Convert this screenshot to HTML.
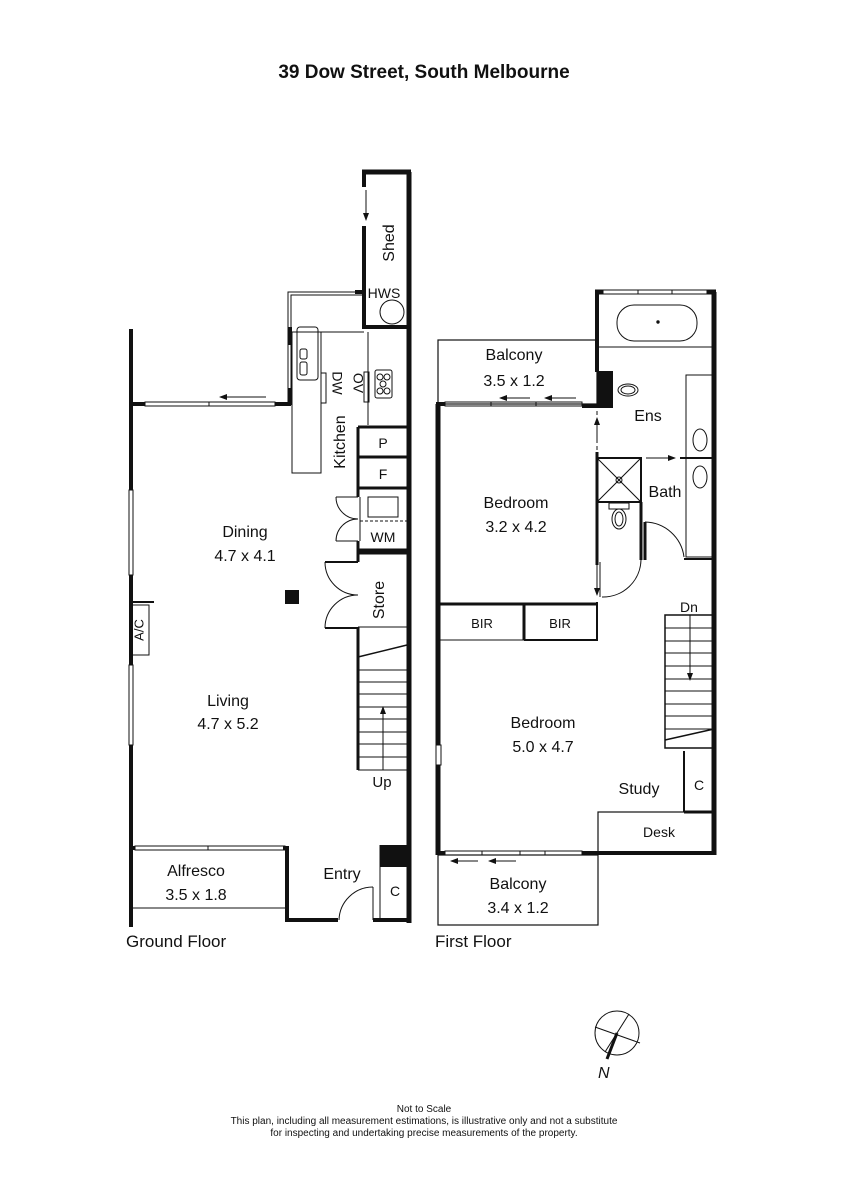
<!DOCTYPE html>
<html><head><meta charset="utf-8"><style>
html,body{margin:0;padding:0;background:#fff;}
svg{display:block}
text{font-family:"Liberation Sans","DejaVu Sans",sans-serif;fill:#111}
</style></head><body>
<svg width="848" height="1200" viewBox="0 0 848 1200" xmlns="http://www.w3.org/2000/svg">
<defs><marker id="ah" markerWidth="8" markerHeight="8" refX="7" refY="4" orient="auto" markerUnits="userSpaceOnUse"><path d="M0,1 L8,4 L0,7 z" fill="#111"/></marker></defs>
<text x="424" y="78" text-anchor="middle" font-size="19" font-weight="bold">39 Dow Street, South Melbourne</text>

<g stroke="#111" fill="none">
<line x1="131" y1="329" x2="131" y2="490" stroke-width="4"/>
<line x1="131" y1="575" x2="131" y2="665" stroke-width="4"/>
<line x1="131" y1="745" x2="131" y2="927" stroke-width="4"/>
<rect x="129" y="490" width="4" height="85" stroke-width="1"/>
<rect x="129" y="665" width="4" height="80" stroke-width="1"/>
<rect x="131" y="605" width="18" height="50" stroke-width="1"/>
<line x1="131" y1="602" x2="154" y2="602" stroke-width="2"/>
<line x1="409" y1="172" x2="409" y2="923" stroke-width="5"/>
<line x1="362" y1="172" x2="411" y2="172" stroke-width="5"/>
<line x1="364" y1="172" x2="364" y2="187" stroke-width="4"/>
<line x1="364" y1="226" x2="364" y2="329" stroke-width="4"/>
<line x1="364" y1="327" x2="409" y2="327" stroke-width="4"/>
<line x1="366" y1="190" x2="366" y2="220" stroke-width="1" marker-end="url(#ah)"/>
<circle cx="392" cy="312" r="12" stroke-width="1"/>
<path d="M364,292 H288 V405" stroke-width="1"/>
<path d="M364,295 H291 V405" stroke-width="1"/>
<line x1="355" y1="292" x2="364" y2="292" stroke-width="4"/>
<line x1="290" y1="327" x2="290" y2="345" stroke-width="4"/>
<line x1="290" y1="388" x2="290" y2="405" stroke-width="4"/>
<line x1="131" y1="404" x2="145" y2="404" stroke-width="4"/>
<line x1="275" y1="404" x2="291" y2="404" stroke-width="4"/>
<rect x="145" y="402" width="130" height="4" stroke-width="1"/>
<line x1="209" y1="402" x2="209" y2="406" stroke-width="1"/>
<line x1="266" y1="397" x2="220" y2="397" stroke-width="1" marker-end="url(#ah)"/>
<rect x="292" y="332" width="29" height="141" stroke-width="1"/>
<line x1="321" y1="332" x2="364" y2="332" stroke-width="1"/>
<line x1="368" y1="332" x2="368" y2="425" stroke-width="1"/>
<rect x="297" y="327" width="21" height="53" rx="3" stroke-width="1"/>
<rect x="300" y="349" width="7" height="10" rx="2" stroke-width="1"/>
<rect x="300" y="362" width="7" height="13" rx="2" stroke-width="1"/>
<rect x="321" y="373" width="5" height="30" stroke-width="1"/>
<rect x="364" y="372" width="5" height="30" stroke-width="1"/>
<rect x="375" y="370" width="17" height="28" rx="2" stroke-width="1"/>
<circle cx="380" cy="377" r="3" stroke-width="1"/><circle cx="387" cy="377" r="3" stroke-width="1"/>
<circle cx="383" cy="384" r="3" stroke-width="1"/>
<circle cx="380" cy="391" r="3" stroke-width="1"/><circle cx="387" cy="391" r="3" stroke-width="1"/>
<line x1="358" y1="427" x2="409" y2="427" stroke-width="3"/>
<line x1="358" y1="457" x2="409" y2="457" stroke-width="3"/>
<line x1="358" y1="488" x2="409" y2="488" stroke-width="3"/>
<line x1="358" y1="427" x2="358" y2="497" stroke-width="3"/>
<line x1="358" y1="541" x2="358" y2="550" stroke-width="3"/>
<line x1="360" y1="497" x2="360" y2="541" stroke-width="1"/>
<line x1="358" y1="550" x2="409" y2="550" stroke-width="3"/>
<rect x="368" y="497" width="30" height="20" stroke-width="1"/>
<line x1="360" y1="521" x2="407" y2="521" stroke-width="1" stroke-dasharray="3,2"/>
<path d="M336,497 H358 M336,541 H358" stroke-width="1"/>
<path d="M336,497 A22,22 0 0 0 358,519 M358,519 A22,22 0 0 0 336,541" stroke-width="1"/>
<line x1="358" y1="553" x2="409" y2="553" stroke-width="3"/>
<line x1="358" y1="550" x2="358" y2="562" stroke-width="3"/>
<line x1="358" y1="627" x2="358" y2="770" stroke-width="3"/>
<path d="M325,562 H358 M325,628 H358" stroke-width="2"/>
<path d="M325,562 A33,33 0 0 0 358,595 M358,595 A33,33 0 0 0 325,628" stroke-width="1"/>
<line x1="358" y1="627" x2="409" y2="627" stroke-width="1"/>
<line x1="358" y1="657" x2="407" y2="645" stroke-width="1.5"/>
<g stroke-width="1">
<line x1="358" y1="670" x2="407" y2="670"/><line x1="358" y1="682" x2="407" y2="682"/>
<line x1="358" y1="694" x2="407" y2="694"/><line x1="358" y1="707" x2="407" y2="707"/>
<line x1="358" y1="719" x2="407" y2="719"/><line x1="358" y1="732" x2="407" y2="732"/>
<line x1="358" y1="744" x2="407" y2="744"/><line x1="358" y1="757" x2="407" y2="757"/>
<line x1="358" y1="770" x2="407" y2="770"/>
</g>
<line x1="383" y1="770" x2="383" y2="707" stroke-width="1" marker-end="url(#ah)"/>
<rect x="285" y="590" width="14" height="14" fill="#111" stroke="none"/>
<line x1="131" y1="848" x2="135" y2="848" stroke-width="4"/>
<rect x="135" y="846" width="150" height="4" stroke-width="1"/>
<line x1="208" y1="846" x2="208" y2="850" stroke-width="1"/>
<path d="M283,848 H287 V920 H338" stroke-width="4"/>
<line x1="131" y1="908" x2="287" y2="908" stroke-width="1"/>
<line x1="373" y1="920" x2="409" y2="920" stroke-width="4"/>
<line x1="373" y1="887" x2="373" y2="920" stroke-width="1"/>
<path d="M339,920 A34,34 0 0 1 373,887" stroke-width="1"/>
<line x1="380" y1="845" x2="380" y2="920" stroke-width="1"/>
<rect x="380" y="845" width="29" height="22" fill="#111" stroke="none"/>

<line x1="438" y1="404" x2="438" y2="745" stroke-width="5"/>
<line x1="438" y1="765" x2="438" y2="855" stroke-width="5"/>
<rect x="436" y="745" width="5" height="20" stroke-width="1"/>
<rect x="438" y="340" width="159" height="64" stroke-width="1.2"/>
<line x1="436" y1="404" x2="445" y2="404" stroke-width="4"/>
<rect x="445" y="402" width="137" height="4" stroke-width="1"/>
<line x1="491" y1="402" x2="491" y2="406" stroke-width="1"/><line x1="536" y1="402" x2="536" y2="406" stroke-width="1"/>
<line x1="530" y1="398" x2="500" y2="398" stroke-width="1" marker-end="url(#ah)"/>
<line x1="576" y1="398" x2="545" y2="398" stroke-width="1" marker-end="url(#ah)"/>
<line x1="582" y1="406" x2="598" y2="406" stroke-width="4"/>
<rect x="597" y="371" width="16" height="37" fill="#111" stroke="none"/>
<line x1="597" y1="292" x2="597" y2="372" stroke-width="4"/>
<line x1="595" y1="292" x2="603" y2="292" stroke-width="5"/>
<rect x="603" y="290" width="104" height="4" stroke-width="1"/>
<line x1="638" y1="290" x2="638" y2="294" stroke-width="1"/><line x1="672" y1="290" x2="672" y2="294" stroke-width="1"/>
<line x1="707" y1="292" x2="716" y2="292" stroke-width="5"/>
<line x1="714" y1="292" x2="714" y2="855" stroke-width="5"/>
<rect x="617" y="305" width="80" height="36" rx="17" stroke-width="1"/>
<circle cx="658" cy="322" r="1.2" fill="#111"/>
<line x1="597" y1="347" x2="714" y2="347" stroke-width="1"/>
<ellipse cx="628" cy="390" rx="10" ry="6" stroke-width="1"/>
<ellipse cx="628" cy="390" rx="7" ry="4" stroke-width="1"/>
<rect x="686" y="375" width="28" height="182" stroke-width="1"/>
<ellipse cx="700" cy="440" rx="7" ry="11" stroke-width="1"/>
<ellipse cx="700" cy="477" rx="7" ry="11" stroke-width="1"/>
<line x1="597" y1="411" x2="597" y2="450" stroke-width="1" stroke-dasharray="4,3"/>
<line x1="597" y1="440" x2="597" y2="418" stroke-width="1" marker-end="url(#ah)"/>
<line x1="646" y1="458" x2="675" y2="458" stroke-width="1" marker-end="url(#ah)"/>
<line x1="680" y1="458" x2="714" y2="458" stroke-width="2"/>
<line x1="597" y1="452" x2="597" y2="565" stroke-width="3"/>
<rect x="597" y="458" width="44" height="44" stroke-width="2"/>
<line x1="597" y1="458" x2="641" y2="502" stroke-width="1"/><line x1="641" y1="458" x2="597" y2="502" stroke-width="1"/>
<circle cx="619" cy="480" r="3" stroke-width="1"/>
<rect x="609" y="503" width="20" height="6" stroke-width="1"/>
<ellipse cx="619" cy="519" rx="7" ry="10" stroke-width="1"/>
<ellipse cx="619" cy="519" rx="4" ry="7" stroke-width="1"/>
<line x1="641" y1="502" x2="641" y2="560" stroke-width="3"/>
<line x1="645" y1="522" x2="645" y2="560" stroke-width="3"/>
<path d="M645,522 A40,40 0 0 1 684,557" stroke-width="1"/>
<line x1="684" y1="559" x2="714" y2="559" stroke-width="2"/>
<path d="M641,560 A38,38 0 0 1 602,597" stroke-width="1"/>
<line x1="600" y1="562" x2="600" y2="597" stroke-width="1"/>
<line x1="597" y1="565" x2="597" y2="595" stroke-width="1" marker-end="url(#ah)"/>
<line x1="438" y1="604" x2="598" y2="604" stroke-width="3"/>
<line x1="524" y1="604" x2="524" y2="640" stroke-width="3"/>
<line x1="597" y1="602" x2="597" y2="640" stroke-width="2"/>
<line x1="524" y1="640" x2="598" y2="640" stroke-width="2"/>
<line x1="438" y1="640" x2="524" y2="640" stroke-width="1"/>
<rect x="665" y="615" width="49" height="133" stroke-width="1.5"/>
<g stroke-width="1">
<line x1="665" y1="628" x2="714" y2="628"/><line x1="665" y1="641" x2="714" y2="641"/>
<line x1="665" y1="653" x2="714" y2="653"/><line x1="665" y1="666" x2="714" y2="666"/>
<line x1="665" y1="679" x2="714" y2="679"/><line x1="665" y1="691" x2="714" y2="691"/>
<line x1="665" y1="704" x2="714" y2="704"/><line x1="665" y1="716" x2="714" y2="716"/>
<line x1="665" y1="729" x2="714" y2="729"/>
</g>
<line x1="665" y1="740" x2="714" y2="729" stroke-width="1.5"/>
<line x1="690" y1="615" x2="690" y2="680" stroke-width="1" marker-end="url(#ah)"/>
<line x1="684" y1="751" x2="684" y2="812" stroke-width="2"/>
<line x1="684" y1="812" x2="714" y2="812" stroke-width="3"/>
<rect x="598" y="812" width="116" height="41" stroke-width="1.2"/>
<line x1="436" y1="853" x2="445" y2="853" stroke-width="4"/>
<rect x="445" y="851" width="137" height="4" stroke-width="1"/>
<line x1="482" y1="851" x2="482" y2="855" stroke-width="1"/><line x1="520" y1="851" x2="520" y2="855" stroke-width="1"/><line x1="545" y1="851" x2="545" y2="855" stroke-width="1"/>
<line x1="582" y1="853" x2="716" y2="853" stroke-width="4"/>
<line x1="478" y1="861" x2="451" y2="861" stroke-width="1" marker-end="url(#ah)"/>
<line x1="516" y1="861" x2="489" y2="861" stroke-width="1" marker-end="url(#ah)"/>
<rect x="438" y="855" width="160" height="70" stroke-width="1.2"/>
<circle cx="617" cy="1033" r="22" stroke-width="1"/>
<line x1="629" y1="1014" x2="605" y2="1052" stroke-width="1"/>
<line x1="617" y1="1033" x2="607" y2="1059" stroke-width="3"/>
<line x1="595" y1="1027" x2="640" y2="1043" stroke-width="1"/>
</g>

<g font-size="16">
<text x="390" y="243" transform="rotate(-90 390 243)" text-anchor="middle" dominant-baseline="middle">Shed</text>
<text x="384" y="298" text-anchor="middle" font-size="14">HWS</text>
<text x="336" y="383" transform="rotate(90 336 383)" text-anchor="middle" dominant-baseline="middle" font-size="14">DW</text>
<text x="357" y="383" transform="rotate(90 357 383)" text-anchor="middle" dominant-baseline="middle" font-size="14">OV</text>
<text x="341" y="442" transform="rotate(-90 341 442)" text-anchor="middle" dominant-baseline="middle">Kitchen</text>
<text x="383" y="448" text-anchor="middle" font-size="14">P</text>
<text x="383" y="479" text-anchor="middle" font-size="14">F</text>
<text x="383" y="542" text-anchor="middle" font-size="14">WM</text>
<text x="380" y="600" transform="rotate(-90 380 600)" text-anchor="middle" dominant-baseline="middle">Store</text>
<text x="140" y="630" transform="rotate(-90 140 630)" text-anchor="middle" dominant-baseline="middle" font-size="13">A/C</text>
<text x="245" y="537" text-anchor="middle">Dining</text>
<text x="245" y="561" text-anchor="middle">4.7 x 4.1</text>
<text x="228" y="706" text-anchor="middle">Living</text>
<text x="228" y="729" text-anchor="middle">4.7 x 5.2</text>
<text x="382" y="787" text-anchor="middle" font-size="15">Up</text>
<text x="196" y="876" text-anchor="middle">Alfresco</text>
<text x="196" y="900" text-anchor="middle">3.5 x 1.8</text>
<text x="342" y="879" text-anchor="middle">Entry</text>
<text x="395" y="896" text-anchor="middle" font-size="14">C</text>
<text x="126" y="947" font-size="17">Ground Floor</text>

<text x="514" y="360" text-anchor="middle">Balcony</text>
<text x="514" y="386" text-anchor="middle">3.5 x 1.2</text>
<text x="648" y="421" text-anchor="middle">Ens</text>
<text x="665" y="497" text-anchor="middle">Bath</text>
<text x="516" y="508" text-anchor="middle">Bedroom</text>
<text x="516" y="532" text-anchor="middle">3.2 x 4.2</text>
<text x="482" y="628" text-anchor="middle" font-size="13">BIR</text>
<text x="560" y="628" text-anchor="middle" font-size="13">BIR</text>
<text x="689" y="612" text-anchor="middle" font-size="14">Dn</text>
<text x="543" y="728" text-anchor="middle">Bedroom</text>
<text x="543" y="752" text-anchor="middle">5.0 x 4.7</text>
<text x="639" y="794" text-anchor="middle">Study</text>
<text x="699" y="790" text-anchor="middle" font-size="14">C</text>
<text x="659" y="837" text-anchor="middle" font-size="14">Desk</text>
<text x="518" y="889" text-anchor="middle">Balcony</text>
<text x="518" y="913" text-anchor="middle">3.4 x 1.2</text>
<text x="435" y="947" font-size="17">First Floor</text>
<text x="598" y="1078" font-size="16" font-style="italic">N</text>
</g>
<g font-size="10" text-anchor="middle">
<text x="424" y="1112">Not to Scale</text>
<text x="424" y="1124">This plan, including all measurement estimations, is illustrative only and not a substitute</text>
<text x="424" y="1136">for inspecting and undertaking precise measurements of the property.</text>
</g>
</svg>
</body></html>
